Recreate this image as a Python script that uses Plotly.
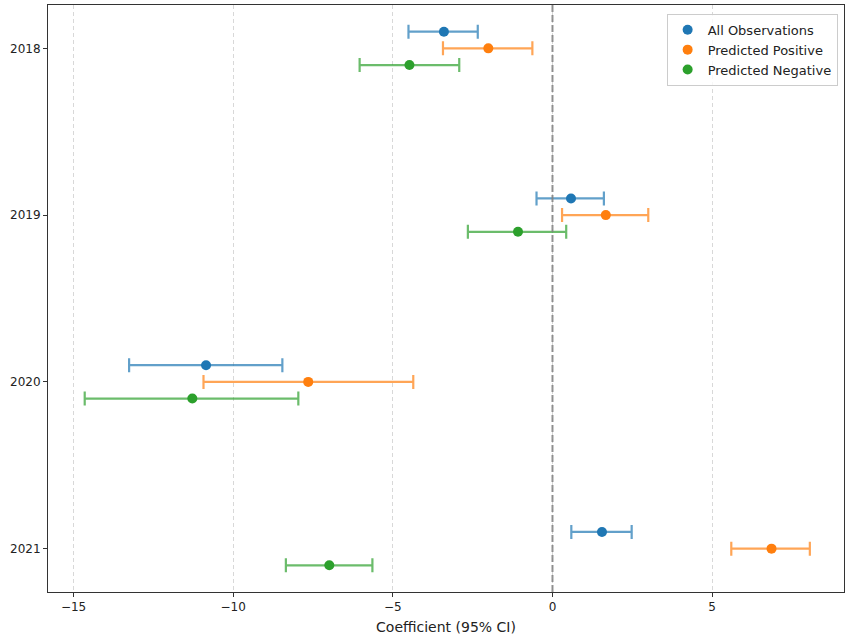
import plotly.graph_objects as go

years = ["2018", "2019", "2020", "2021"]
series_names = ["All Observations", "Predicted Positive", "Predicted Negative"]
colors = ["#1f77b4", "#ff7f0e", "#2ca02c"]
line_colors = ["rgba(31,119,180,0.7)", "rgba(255,127,14,0.7)", "rgba(44,160,44,0.7)"]

all_coef = [-3.40, 0.58, -10.85, 1.55]
all_lower = [-4.51, -0.50, -13.26, 0.59]
all_upper = [-2.34, 1.61, -8.46, 2.48]

pos_coef = [-2.01, 1.67, -7.65, 6.86]
pos_lower = [-3.43, 0.30, -10.93, 5.60]
pos_upper = [-0.63, 3.00, -4.36, 8.06]

neg_coef = [-4.48, -1.08, -11.28, -6.99]
neg_lower = [-6.04, -2.65, -14.65, -8.35]
neg_upper = [-2.92, 0.43, -7.96, -5.64]

coefs = [all_coef, pos_coef, neg_coef]
lowers = [all_lower, pos_lower, neg_lower]
uppers = [all_upper, pos_upper, neg_upper]
offsets = [-0.1, 0.0, 0.1]

fig = go.Figure()
for k in range(3):
    yv = [i + offsets[k] for i in range(len(years))]
    fig.add_trace(go.Scatter(
        x=coefs[k], y=yv, mode="markers", name=series_names[k],
        marker=dict(color=colors[k], size=10),
        error_x=dict(type="data", symmetric=False,
                     array=[u - c for u, c in zip(uppers[k], coefs[k])],
                     arrayminus=[c - l for c, l in zip(coefs[k], lowers[k])],
                     color=line_colors[k], thickness=2.2, width=7),
    ))

fig.add_shape(type="line", x0=0, x1=0, y0=0, y1=1, xref="x", yref="paper",
              line=dict(color="rgba(128,128,128,0.85)", width=2, dash="7px,3px"), layer="above")

fig.update_layout(
    width=846, height=642,
    margin=dict(l=48, r=2, t=5, b=50),
    plot_bgcolor="white", paper_bgcolor="white",
    font=dict(family="DejaVu Sans", size=12, color="#222"),
    showlegend=True,
    legend=dict(x=0.992, y=0.985, xanchor="right", yanchor="top",
                bordercolor="#cccccc", borderwidth=1, bgcolor="rgba(255,255,255,0.8)",
                font=dict(size=13)),
    xaxis=dict(range=[-15.8, 9.13], tickvals=[-15, -10, -5, 0, 5],
               ticktext=["\u221215", "\u221210", "\u22125", "0", "5"],
               showgrid=True, gridcolor="#d8d8d8", griddash="4px,3px", gridwidth=1,
               zeroline=False, showline=True, linecolor="#333", linewidth=1, mirror=True,
               ticks="outside", ticklen=4, tickcolor="#333", automargin=False,
               title=dict(text="Coefficient (95% CI)", standoff=8)),
    yaxis=dict(range=[3.26, -0.26], tickvals=list(range(len(years))), ticktext=years,
               showgrid=False, zeroline=False, showline=True, linecolor="#333", linewidth=1,
               mirror=True, ticks="outside", ticklen=4, tickcolor="#333", automargin=False),
)

fig.write_html("out.html", config={"displayModeBar": False},
               post_script="document.body.style.margin='0';document.body.style.overflow='hidden';")
